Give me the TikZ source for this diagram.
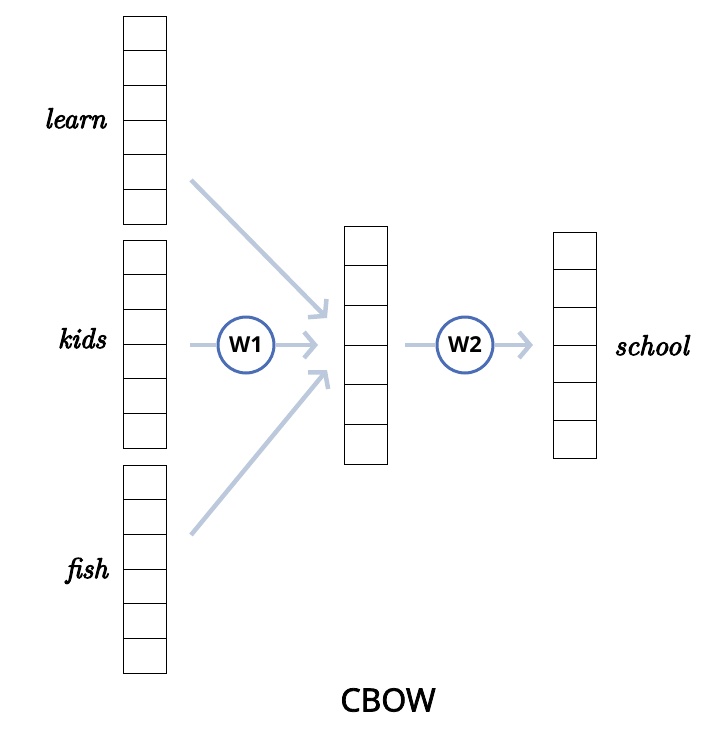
\documentclass[tikz,border=0pt]{standalone}
\usepackage{fontspec}
\newfontfamily\sansf{Open Sans}
\newfontfamily\cbowf{Open Sans}[FakeBold=2.5]
\newfontface\wordf{lmroman10-italic.otf}[FakeBold=3.5]
\usetikzlibrary{arrows.meta,calc}
\definecolor{arrowc}{HTML}{BCC8DB}
\definecolor{circc}{HTML}{4A6DB5}
\tikzset{
  vec/.style={draw=black, line width=0.8pt, minimum width=43pt, inner sep=0pt, outer sep=0pt},
  word/.style={font=\wordf\fontsize{28.5}{32}\selectfont, inner sep=0pt},
  flow/.style={draw=arrowc, line width=4.5pt},
  flowtip/.style={flow, -{Straight Barb[length=11pt,width=26pt]}},
  weight/.style={circle, draw=circc, line width=3pt, minimum size=56pt, inner sep=0pt, font=\sansf\bfseries\fontsize{22}{24}\selectfont},
}
\newcommand{\cells}[1]{% node name
  \foreach \k in {1,...,5}{
    \draw[line width=0.8pt] ($(#1.north west)!\k/6!(#1.south west)$) -- ($(#1.north east)!\k/6!(#1.south east)$);
  }
}
\begin{document}
\begin{tikzpicture}[x=1pt,y=-1pt]
\useasboundingbox (0,0) rectangle (727,733);
% vectors
\node[vec, minimum height=208pt] (vlearn) at (144.5,120) {};
\node[vec, minimum height=208pt] (vkids) at (144.5,344) {};
\node[vec, minimum height=208pt] (vfish) at (144.5,569) {};
\node[vec, minimum height=238pt] (vhid) at (365.5,345) {};
\node[vec, minimum height=226pt] (vout) at (574.5,345) {};
\cells{vlearn}\cells{vkids}\cells{vfish}\cells{vhid}\cells{vout}
% words
\node[word, anchor=base east] (tlearn) at (106,128) {learn};
\node[word, anchor=base east] (tkids) at (106,348) {kids};
\node[word, anchor=base east] (tfish) at (108,578) {fish};
\node[word, anchor=base west] (tschool) at (614,355) {school};
% weights
\node[weight] (w1) at (246,345) {W1};
\node[weight] (w2) at (465,345) {W2};
% connector ends
\coordinate (s1) at (191,180);
\coordinate (e1) at (327,318);
\coordinate (s2) at (190,345);
\coordinate (e2) at (318,345);
\coordinate (s3) at (191,535);
\coordinate (e3) at (327,370);
\coordinate (s4) at (405,345);
\coordinate (e4) at (533,345);
\draw[flowtip] (s1) -- (e1);
\draw[flowtip] (s3) -- (e3);
\draw[flow] (s2) -- (w1.west);
\draw[flowtip] (w1.east) -- (e2);
\draw[flow] (s4) -- (w2.west);
\draw[flowtip] (w2.east) -- (e4);
\node[font=\cbowf\fontsize{32}{34}\selectfont] (title) at (388,700) {CBOW};
\end{tikzpicture}
\end{document}
